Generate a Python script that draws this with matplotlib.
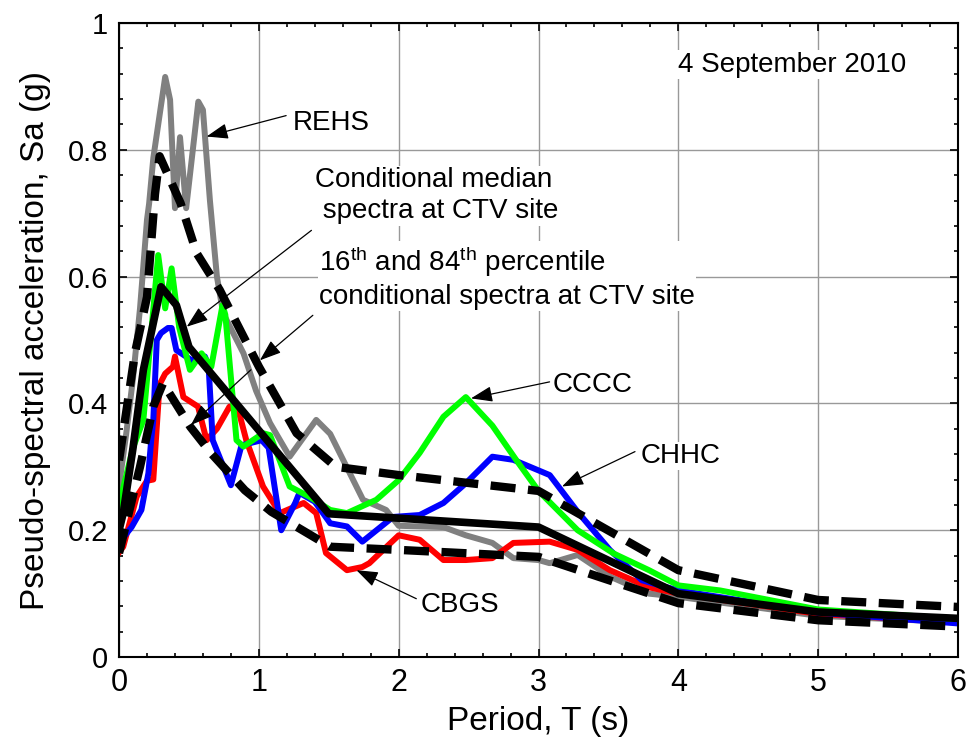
import matplotlib
matplotlib.use("Agg")
import matplotlib.pyplot as plt
import numpy as np

plt.rcParams["font.family"] = ["Liberation Sans", "DejaVu Sans"]
plt.rcParams["mathtext.fontset"] = "custom"
plt.rcParams["mathtext.rm"] = "Liberation Sans"
plt.rcParams["mathtext.it"] = "Liberation Sans"

t_rehs = [0, 0.05, 0.1, 0.15, 0.2, 0.215, 0.245, 0.33, 0.365, 0.4, 0.436, 0.48, 0.567, 0.6, 0.65, 0.7,
          0.745, 0.89, 0.98, 1.08, 1.22, 1.41, 1.51, 1.65, 1.745, 1.91, 2.0, 2.32, 2.48, 2.67, 2.82,
          3.0, 3.08, 3.28, 3.51, 3.79, 4.0, 5.0, 6.0]
sa_rehs = [0.27, 0.35, 0.44, 0.55, 0.69, 0.715, 0.787, 0.915, 0.879, 0.708, 0.82, 0.708, 0.876, 0.863,
           0.72, 0.6, 0.542, 0.479, 0.42, 0.369, 0.316, 0.374, 0.352, 0.29, 0.248, 0.232, 0.207, 0.205,
           0.192, 0.18, 0.156, 0.153, 0.148, 0.161, 0.127, 0.1, 0.095, 0.065, 0.055]

t_cbgs = [0, 0.03, 0.126, 0.2, 0.245, 0.29, 0.33, 0.386, 0.4, 0.46, 0.565, 0.626, 0.7, 0.79, 0.86, 0.91,
          1.03, 1.15, 1.32, 1.41, 1.48, 1.63, 1.74, 1.79, 2.0, 2.15, 2.32, 2.48, 2.67, 2.82, 3.08,
          3.28, 3.51, 3.79, 4.0, 5.0, 6.0]
sa_cbgs = [0.165, 0.174, 0.253, 0.278, 0.28, 0.43, 0.447, 0.458, 0.474, 0.41, 0.395, 0.342, 0.36, 0.395,
           0.384, 0.342, 0.269, 0.227, 0.243, 0.227, 0.164, 0.137, 0.142, 0.148, 0.192, 0.185, 0.153,
           0.153, 0.156, 0.18, 0.182, 0.169, 0.137, 0.11, 0.1, 0.068, 0.055]

t_chhc = [0, 0.09, 0.16, 0.21, 0.23, 0.245, 0.27, 0.3, 0.35, 0.376, 0.41, 0.52, 0.614, 0.64, 0.67, 0.8,
          0.876, 1.02, 1.07, 1.16, 1.26, 1.29, 1.4, 1.51, 1.63, 1.74, 1.96, 2.15, 2.32, 2.48, 2.67,
          2.82, 3.08, 3.28, 3.51, 3.74, 4.0, 5.0, 6.0]
sa_chhc = [0.18, 0.205, 0.232, 0.29, 0.342, 0.374, 0.5, 0.511, 0.519, 0.519, 0.484, 0.468, 0.474, 0.46,
           0.342, 0.271, 0.334, 0.342, 0.33, 0.2, 0.243, 0.259, 0.245, 0.211, 0.206, 0.182, 0.221,
           0.224, 0.243, 0.274, 0.316, 0.311, 0.287, 0.229, 0.169, 0.121, 0.105, 0.07, 0.053]

t_cccc = [0, 0.1, 0.174, 0.28, 0.33, 0.376, 0.43, 0.507, 0.59, 0.66, 0.74, 0.76, 0.84, 0.89, 1.03, 1.08,
          1.22, 1.36, 1.51, 1.63, 1.84, 2.0, 2.15, 2.32, 2.48, 2.67, 2.84, 3.0, 3.28, 3.54, 3.79,
          4.0, 4.3, 5.0, 6.0]
sa_cccc = [0.24, 0.33, 0.374, 0.634, 0.55, 0.613, 0.52, 0.453, 0.479, 0.458, 0.555, 0.54, 0.342, 0.332,
           0.353, 0.35, 0.269, 0.253, 0.232, 0.227, 0.248, 0.279, 0.322, 0.379, 0.41, 0.365, 0.311,
           0.262, 0.2, 0.163, 0.137, 0.113, 0.105, 0.075, 0.06]

# conditional spectra at CTV site
t_med = [0, 0.03, 0.1, 0.174, 0.3, 0.41, 0.5, 1.5, 3.0, 4.0, 5.0, 6.0]
sa_med = [0.2, 0.227, 0.33, 0.453, 0.584, 0.555, 0.489, 0.226, 0.205, 0.1, 0.071, 0.061]

t_p84 = [0, 0.114, 0.2, 0.257, 0.29, 0.44, 0.555, 0.72, 1.0, 1.27, 1.55, 2.0, 3.0, 4.0, 5.0, 6.0]
sa_p84 = [0.31, 0.48, 0.568, 0.73, 0.79, 0.716, 0.637, 0.579, 0.458, 0.353, 0.30, 0.287, 0.262, 0.137,
          0.09, 0.079]

t_p16 = [0, 0.15, 0.245, 0.315, 0.51, 0.66, 0.9, 1.09, 1.51, 2.0, 3.0, 4.0, 5.0, 6.0]
sa_p16 = [0.164, 0.3, 0.395, 0.432, 0.363, 0.321, 0.263, 0.229, 0.174, 0.169, 0.158, 0.085, 0.058, 0.048]

fig = plt.figure(figsize=(9.71, 7.43), dpi=100)
ax = fig.add_axes([0.1226, 0.1157, 0.8640, 0.8533])

lw_rec = 4.3
ax.plot(t_rehs, sa_rehs, color="#808080", lw=lw_rec, solid_joinstyle="round")
ax.plot(t_cbgs, sa_cbgs, color="#ff0000", lw=lw_rec, solid_joinstyle="round")
ax.plot(t_chhc, sa_chhc, color="#0000ff", lw=lw_rec, solid_joinstyle="round")
ax.plot(t_cccc, sa_cccc, color="#00ff00", lw=lw_rec, solid_joinstyle="round")
ax.plot(t_med, sa_med, color="black", lw=5.5)
ax.plot(t_p84, sa_p84, color="black", lw=6, ls=(0, (3.0, 1.5)), dash_capstyle="butt")
ax.plot(t_p16, sa_p16, color="black", lw=6, ls=(0, (3.0, 1.5)), dash_capstyle="butt")

ax.set_xlim(0, 6)
ax.set_ylim(0, 1)
ax.set_xticks(range(7))
ax.set_yticks([0, 0.2, 0.4, 0.6, 0.8, 1])
ax.set_yticklabels(["0", "0.2", "0.4", "0.6", "0.8", "1"])
ax.set_xticks(np.arange(0, 6.01, 0.2), minor=True)
ax.set_yticks(np.arange(0, 1.001, 0.04), minor=True)
ax.tick_params(which="both", direction="in", top=True, right=True, width=1.2)
ax.tick_params(axis="x", which="major", labelsize=22, pad=8)
ax.tick_params(axis="y", which="major", labelsize=21, pad=8)
ax.tick_params(which="major", length=6)
ax.tick_params(which="minor", length=3)
ax.grid(True, color="#999999", lw=1)
for s in ax.spines.values():
    s.set_linewidth(1.5)

ax.set_xlabel("Period, T (s)", fontsize=24, labelpad=6)
ax.set_ylabel("Pseudo-spectral acceleration, Sa (g)", fontsize=24, labelpad=12)

box = dict(facecolor="white", edgecolor="none", pad=1)
fs = 20
ax.text(4.0, 0.923, "4 September 2010", fontsize=fs, bbox=box)
ax.text(1.243, 0.831, "REHS", fontsize=fs, bbox=box)
# multi-line texts: baseline given for the last line
ax.text(1.405, 0.692, "Conditional median\n spectra at CTV site", fontsize=fs, bbox=box,
        linespacing=1.25)
ax.text(1.43, 0.557, "16$^{\\mathrm{th}}$ and 84$^{\\mathrm{th}}$ percentile\nconditional spectra at CTV site",
        fontsize=fs, bbox=box, linespacing=1.25)
ax.text(3.10, 0.418, "CCCC", fontsize=fs, bbox=box)
ax.text(3.73, 0.306, "CHHC", fontsize=fs, bbox=box)
ax.text(2.157, 0.071, "CBGS", fontsize=fs, bbox=box)

arrows = [((1.195, 0.854), (0.626, 0.821)),
          ((1.376, 0.673), (0.484, 0.521)),
          ((1.386, 0.539), (1.007, 0.468)),
          ((0.943, 0.453), (0.514, 0.366)),
          ((3.079, 0.434), (2.517, 0.408)),
          ((3.69, 0.324), (3.168, 0.269)),
          ((2.126, 0.092), (1.698, 0.137))]
for start, tip in arrows:
    ax.annotate("", xy=tip, xytext=start,
                arrowprops=dict(arrowstyle="-|>,head_length=1.1,head_width=0.4", color="black",
                                lw=0.9, mutation_scale=12, shrinkA=0, shrinkB=0))

fig.savefig("out.png", dpi=100)
